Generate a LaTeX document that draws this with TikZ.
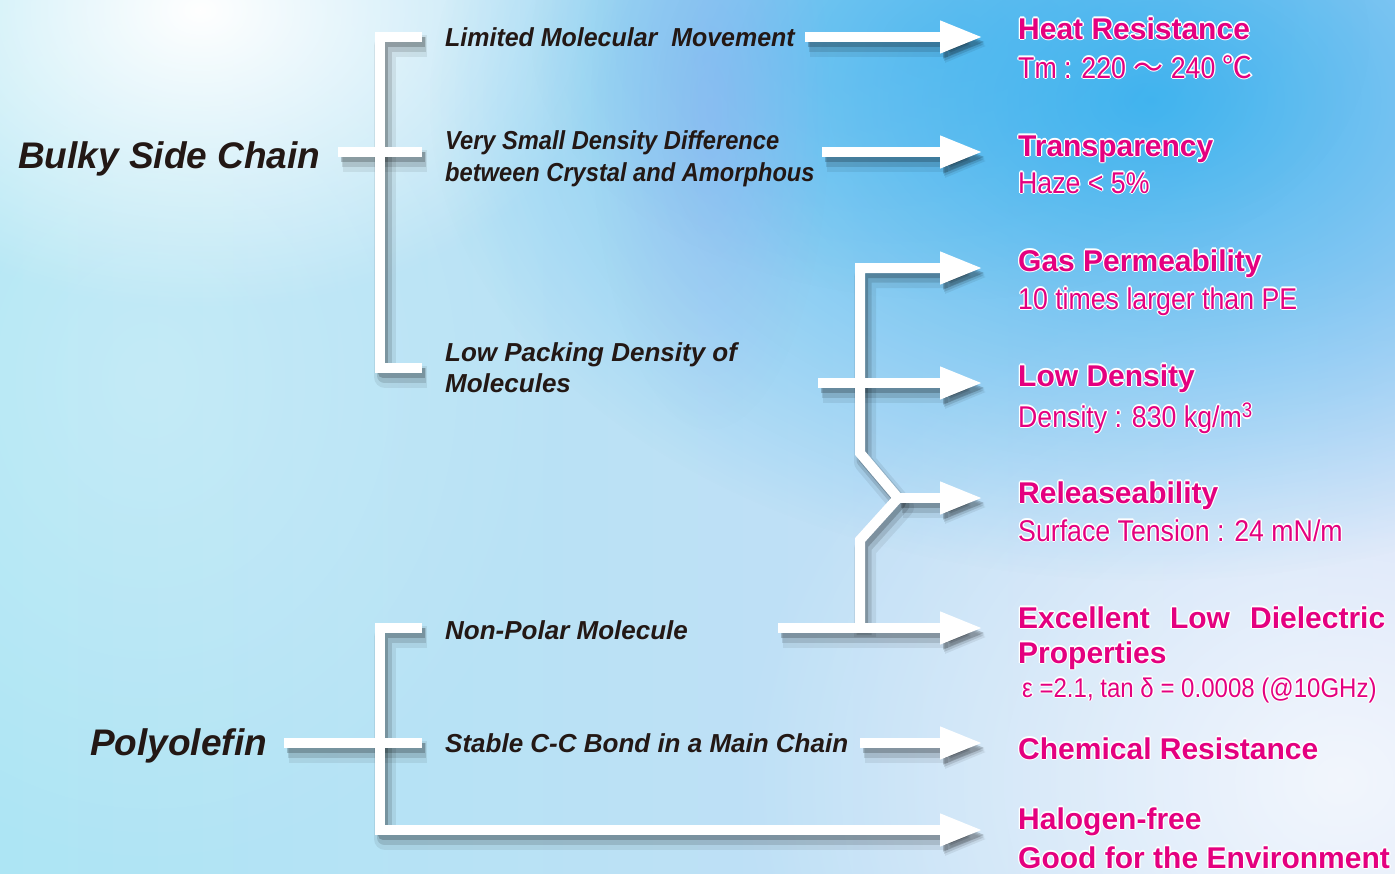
\documentclass[tikz,border=0pt]{standalone}
\usepackage{fontspec}
\setmainfont{Liberation Sans}
\newfontfamily\narrowfont[FakeStretch=0.89]{Liberation Sans}
\newfontfamily\lblnarrow[FakeStretch=0.91]{Liberation Sans}
\newfontfamily\lblsemi[FakeStretch=0.96]{Liberation Sans}
\newfontfamily\cjkfont{Noto Sans CJK JP}
\usetikzlibrary{arrows.meta,fadings}
\definecolor{pinkc}{HTML}{E4007F}
\definecolor{inkc}{HTML}{231815}
\definecolor{bgleft}{HTML}{ADE5F4}
\definecolor{bgmid}{HTML}{9CD9F3}
\definecolor{bgright}{HTML}{CCDCF7}
\definecolor{bluetop}{HTML}{36B0EE}
\definecolor{purp}{HTML}{9AA6F0}
\tikzfading[name=glow, inner color=transparent!0, outer color=transparent!100]
\newcommand\wo[1]{\leavevmode\rlap{\hspace{1.3pt}#1}\rlap{\hspace{-1.3pt}#1}\rlap{\raisebox{1.3pt}{#1}}\rlap{\raisebox{-1.3pt}{#1}}\rlap{\hspace{0.9pt}\raisebox{0.9pt}{#1}}\rlap{\hspace{-0.9pt}\raisebox{0.9pt}{#1}}\rlap{\hspace{0.9pt}\raisebox{-0.9pt}{#1}}\rlap{\hspace{-0.9pt}\raisebox{-0.9pt}{#1}}}
\newcommand\outl[1]{{\color{white}\wo{#1}}{\color{pinkc}#1}}
\tikzset{
  lbl/.style={anchor=base west, inner sep=0pt, text=inkc, font=\fontsize{26}{30}\selectfont\bfseries\itshape},
  lblb/.style={lbl, font=\fontsize{26}{30}\selectfont\lblnarrow\bfseries\itshape},
  lblc/.style={lbl, font=\fontsize{26}{30}\selectfont\lblsemi\bfseries\itshape},
  biglbl/.style={lbl, font=\fontsize{37}{40}\selectfont\bfseries\itshape},
  head/.style={anchor=base west, inner sep=0pt, font=\fontsize{30}{36}\selectfont\bfseries},
  subt/.style={anchor=base west, inner sep=0pt, font=\fontsize{30}{36}\selectfont\narrowfont},
  wire/.style={draw=white, line width=10pt, line cap=butt, line join=miter},
  arrowed/.style={-{Triangle[length=43pt,width=30pt]}},
}
\newcommand\drawwires[1]{%
  \draw[#1] (b1te) -- (b1t) -- (b1b) -- (b1be);
  \draw[#1] (b1ml) -- (b1mr);
  \draw[#1,arrowed] (a1s) -- (a1e);
  \draw[#1,arrowed] (a2s) -- (a2e);
  \draw[#1,arrowed] (tr0) -- (tr1) -- (tr2) -- (tr3) -- (tr4) -- (gase);
  \draw[#1,arrowed] (tr2) -- (rele);
  \draw[#1,arrowed] (lds) -- (lde);
  \draw[#1,arrowed] (exs) -- (exe);
  \draw[#1,arrowed] (chs) -- (che);
  \draw[#1,arrowed] (b2te) -- (b2t) -- (b2b) -- (hale);
  \draw[#1] (b2ml) -- (b2mr);
}
\begin{document}
\begin{tikzpicture}[x=1pt,y=-1pt]
\useasboundingbox (0,0) rectangle (1395,873);
% background
\fill[left color=bgleft, middle color=bgmid, right color=bgright] (0,0) rectangle (1395,873);
\fill[white, path fading=glow, opacity=0.75] (1340,780) ellipse [x radius=600pt, y radius=520pt];
\fill[white, path fading=glow, opacity=0.25] (150,380) ellipse [x radius=420pt, y radius=500pt];
\fill[white, path fading=glow] (200,10) ellipse [x radius=420pt, y radius=300pt];
\fill[bluetop, path fading=glow, opacity=0.9] (1150,100) ellipse [x radius=720pt, y radius=480pt];
\fill[bluetop, path fading=glow, opacity=0.4] (950,40) ellipse [x radius=420pt, y radius=260pt];
\fill[purp, path fading=glow, opacity=0.35] (710,110) ellipse [x radius=120pt, y radius=320pt];
% coordinates
\coordinate (b1te) at (422,37);
\coordinate (b1t) at (380,37);
\coordinate (b1b) at (380,368);
\coordinate (b1be) at (422,368);
\coordinate (b1ml) at (338,152);
\coordinate (b1mr) at (422,152);
\coordinate (a1s) at (805,37);
\coordinate (a1e) at (983,37);
\coordinate (a2s) at (822,152);
\coordinate (a2e) at (983,152);
\coordinate (tr0) at (860,628);
\coordinate (tr1) at (860,540);
\coordinate (tr2) at (898,498);
\coordinate (tr3) at (860,453);
\coordinate (tr4) at (860,268);
\coordinate (gase) at (983,268);
\coordinate (rele) at (983,498);
\coordinate (lds) at (818,383);
\coordinate (lde) at (983,383);
\coordinate (exs) at (778,628);
\coordinate (exe) at (983,628);
\coordinate (chs) at (860,743);
\coordinate (che) at (983,743);
\coordinate (b2te) at (422,628);
\coordinate (b2t) at (380,628);
\coordinate (b2b) at (380,830);
\coordinate (hale) at (983,830);
\coordinate (b2ml) at (284,743);
\coordinate (b2mr) at (422,743);
% shadows
\drawwires{black, opacity=0.07, line width=22pt, line join=round, transform canvas={shift={(5,9)}}}
\drawwires{black, opacity=0.12, line width=15pt, line join=round, transform canvas={shift={(4,7)}}}
\drawwires{black, opacity=0.2, line width=10pt, line join=round, transform canvas={shift={(3,5)}}}
% white wires
\drawwires{wire}
% left labels
\node[biglbl] (bulky) at (18,168) {Bulky Side Chain};
\node[biglbl] (poly) at (90,755) {Polyolefin};
\node[lblc] (lim) at (445,46) {Limited Molecular\ \ Movement};
\node[lblb] (vs1) at (445,149) {Very Small Density Difference};
\node[lblb] (vs2) at (445,181) {between Crystal and Amorphous};
\node[lbl] (lp1) at (445,361) {Low Packing Density of};
\node[lbl] (lp2) at (445,392) {Molecules};
\node[lbl] (np) at (445,639) {Non-Polar Molecule};
\node[lbl] (cc) at (445,752) {Stable C-C Bond in a Main Chain};
% right labels
\node[head] (heat) at (1018,39) {\outl{Heat Resistance}};
\node[subt] (heats) at (1018,78) {\outl{Tm : 220 {\cjkfont ～} 240 {\cjkfont ℃}}};
\node[head] (tra) at (1018,156) {\outl{Transparency}};
\node[subt] (tras) at (1018,193) {\outl{Haze < 5\%}};
\node[head] (gas) at (1018,271) {\outl{Gas Permeability}};
\node[subt] (gass) at (1018,309) {\outl{10 times larger than PE}};
\node[head] (ld) at (1018,386) {\outl{Low Density}};
\node[subt] (lds2) at (1018,427) {\outl{Density : 830 kg/m\textsuperscript{3}}};
\node[head] (rel) at (1018,503) {\outl{Releaseability}};
\node[subt] (rels) at (1018,541) {\outl{Surface Tension : 24 mN/m}};
\node[head] (ex1) at (1018,628) {\outl{\makebox[367pt][s]{Excellent\hfill Low\hfill Dielectric}}};
\node[head] (ex2) at (1018,663) {\outl{Properties}};
\node[subt, font=\fontsize{27}{32}\selectfont\narrowfont] (exs2) at (1022,697) {\outl{ε =2.1, tan δ = 0.0008 (@10GHz)}};
\node[head] (chem) at (1018,759) {\outl{Chemical Resistance}};
\node[head] (hal) at (1018,829) {\outl{Halogen-free}};
\node[head] (env) at (1018,868) {\outl{Good for the Environment}};
\end{tikzpicture}
\end{document}
